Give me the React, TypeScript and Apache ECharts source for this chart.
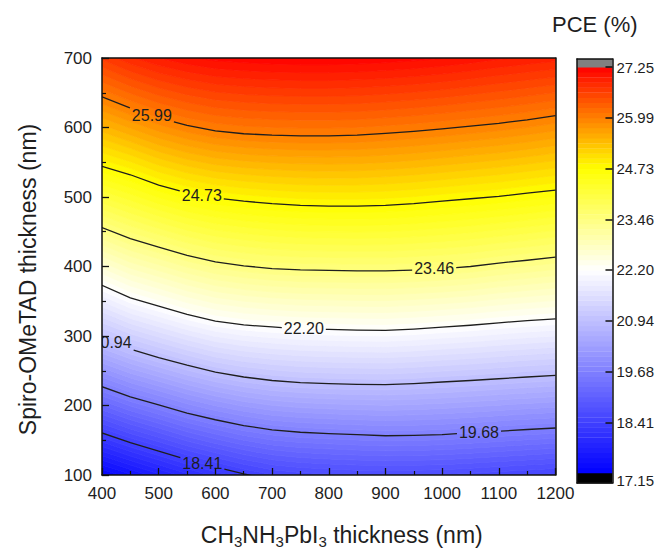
import React, { useEffect, useRef } from "react";
import * as echarts from "echarts";

const FONT = '"Liberation Sans", Arial, Helvetica, sans-serif';
const TXT = "#1e1e1e";

// x positions (CH3NH3PbI3 thickness, nm) at which the contour lines were read
const xCols = [400, 450, 500, 550, 600, 650, 700, 750, 800, 850, 900, 950, 1000, 1050, 1100, 1150, 1200];

// contour levels (PCE %)
const levels = [18.41, 19.68, 20.94, 22.2, 23.46, 24.73, 25.99];
const levelLabels = ["18.41", "19.68", "20.94", "22.20", "23.46", "24.73", "25.99"];

// Spiro-OMeTAD thickness (nm) of each contour line at xCols
const y1841 = [160.5, 146.5, 134.5, 122, 111.5, 101.6, 93, 89, 86.5, 85, 84.5, 85, 86, 88, 90, 92.5, 95];
const y1968 = [227, 212.5, 201, 189, 179.5, 171, 165, 161.5, 159.6, 158, 156.5, 157, 158.2, 160.5, 163, 165.5, 167.6];
const y2094 = [296, 281, 269, 258, 248, 241, 236, 233, 231.4, 230.5, 230, 231.5, 233.8, 236, 238.5, 241, 243.3];
const y2220 = [373, 355, 343, 331, 321.5, 316, 313, 310.5, 309.4, 308.5, 308, 310, 312.8, 315.5, 319, 322, 324.6];
const y2346 = [456, 440, 428, 416, 406.5, 401, 397, 395, 394.5, 393.8, 393.6, 395, 397, 400, 405, 409, 413.5];
const y2473 = [544, 532, 517, 506, 498.5, 494, 490.5, 488, 487, 487, 488, 490.5, 494, 497.5, 501, 505.5, 510];
const y2599 = [644, 628, 614, 603, 595, 591, 589, 588, 588, 589, 591.5, 594.5, 598, 602, 606, 611, 617];

// PCE at the top edge (700 nm) and bottom edge (100 nm) at xCols
const topEdge = [26.65, 26.85, 27.0, 27.1, 27.17, 27.2, 27.22, 27.23, 27.23, 27.22, 27.2, 27.17, 27.13, 27.08, 27.02, 26.97, 26.93];
const bottomEdge = [17.25, 17.5, 17.75, 17.99, 18.2, 18.38, 18.53, 18.6, 18.64, 18.67, 18.68, 18.67, 18.66, 18.62, 18.58, 18.54, 18.5];

// x position of each contour label
const labelX = [577, 1065, 417, 756, 986, 576, 488];

// colour bar
const cbTicks = [17.15, 18.41, 19.68, 20.94, 22.2, 23.46, 24.73, 25.99, 27.25];
const cbLabelPos = [16.95, 18.41, 19.68, 20.94, 22.2, 23.46, 24.73, 25.99, 27.25];
const CB_MIN = 16.9;
const CB_MAX = 27.45;

// colour map
const cmapVals = [17.15, 22.2, 24.73, 27.25];
const cmapCols = ["#0000ff", "#ffffff", "#ffff00", "#ff0000"];
const SUB_BANDS = 10;

const colY = [y1841, y1968, y2094, y2220, y2346, y2473, y2599];

function hexRgb(h: string) {
  return [parseInt(h.slice(1, 3), 16), parseInt(h.slice(3, 5), 16), parseInt(h.slice(5, 7), 16)];
}
function colorOf(v: number) {
  const n = cmapVals.length;
  if (v <= cmapVals[0]) return cmapCols[0];
  if (v >= cmapVals[n - 1]) return cmapCols[n - 1];
  let k = 0;
  while (k < n - 2 && v > cmapVals[k + 1]) k++;
  const t = (v - cmapVals[k]) / (cmapVals[k + 1] - cmapVals[k]);
  const a = hexRgb(cmapCols[k]);
  const b = hexRgb(cmapCols[k + 1]);
  const c = a.map((x, i) => Math.round(x + (b[i] - x) * t));
  return `rgb(${c[0]},${c[1]},${c[2]})`;
}

const bandEdges: number[] = [];
(() => {
  const lo = cbTicks[0];
  const hi = cbTicks[cbTicks.length - 1];
  const nb = (cbTicks.length - 1) * SUB_BANDS;
  for (let i = 0; i <= nb; i++) bandEdges.push(lo + ((hi - lo) * i) / nb);
})();
const bandIdx = bandEdges.slice(0, -1).map((_, i) => i);

function columnStops(i: number) {
  const st: { y: number; v: number }[] = [{ y: 100, v: bottomEdge[i] }];
  levels.forEach((lv, k) => {
    const y = colY[k][i];
    if (y > 100 && y < 700) st.push({ y, v: lv });
  });
  st.push({ y: 700, v: topEdge[i] });
  st.sort((a, b) => a.y - b.y);
  return st;
}
const stopsByCol = xCols.map((_, i) => columnStops(i));

function posOf(i: number, v: number) {
  const st = stopsByCol[i];
  const n = st.length;
  let a, b;
  if (v <= st[0].v) {
    a = st[0];
    b = st[1];
  } else if (v >= st[n - 1].v) {
    a = st[n - 2];
    b = st[n - 1];
  } else {
    let k = 0;
    while (k < n - 2 && v > st[k + 1].v) k++;
    a = st[k];
    b = st[k + 1];
  }
  return a.y + ((v - a.v) * (b.y - a.y)) / (b.v - a.v);
}

function interpArr(xs: number[], ys: number[], x: number) {
  for (let i = 0; i < xs.length - 1; i++) {
    if (x >= xs[i] && x <= xs[i + 1]) {
      const t = (x - xs[i]) / (xs[i + 1] - xs[i]);
      return ys[i] + (ys[i + 1] - ys[i]) * t;
    }
  }
  return x < xs[0] ? ys[0] : ys[ys.length - 1];
}

function splitPolyline(pts: number[][], g0: number, g1: number) {
  const xs = pts.map((p) => p[0]);
  const ys = pts.map((p) => p[1]);
  const all = pts.slice();
  [g0, g1].forEach((b) => {
    if (b > xs[0] && b < xs[xs.length - 1]) all.push([b, interpArr(xs, ys, b)]);
  });
  all.sort((a, b) => a[0] - b[0]);
  const segs: number[][][] = [];
  let cur: number[][] = [];
  const eps = 1e-6;
  for (const p of all) {
    if (p[0] > g0 + eps && p[0] < g1 - eps) {
      if (cur.length) {
        segs.push(cur);
        cur = [];
      }
      continue;
    }
    if (cur.length && cur[cur.length - 1][0] <= g0 + eps && p[0] >= g1 - eps) {
      segs.push(cur);
      cur = [];
    }
    cur.push(p);
  }
  if (cur.length) segs.push(cur);
  return segs.filter((s) => s.length >= 2);
}

const axisLineStyle = { color: "#111", width: 1.5 };
const frameAxis = (gridIndex: number, position: string, min: number, max: number) => ({
  gridIndex,
  type: "value",
  position,
  min,
  max,
  z: 10,
  axisLine: { show: true, onZero: false, lineStyle: axisLineStyle },
  axisTick: { show: false },
  axisLabel: { show: false },
  splitLine: { show: false },
});

export default function App() {
  const ref = useRef<HTMLDivElement>(null);
  useEffect(() => {
    if (!ref.current) return;
    const chart = echarts.init(ref.current, null, { renderer: "svg" });
    const LABEL_FS = 16;
    const option = {
      animation: false,
      backgroundColor: "#ffffff",
      title: {
        text: "PCE (%)",
        left: 547,
        top: 8,
        textStyle: { fontSize: 22, fontWeight: "normal", fontFamily: FONT, color: TXT },
      },
      grid: [
        { left: 102, top: 58, width: 453.5, height: 423 },
        { left: 577, top: 59, width: 36, height: 424 },
      ],
      xAxis: [
        {
          gridIndex: 0,
          type: "value",
          min: 400,
          max: 1200,
          interval: 100,
          position: "bottom",
          z: 10,
          axisLine: { show: true, onZero: false, lineStyle: axisLineStyle },
          axisTick: { show: true, inside: true, length: 7, lineStyle: { color: "#111", width: 1.3 } },
          minorTick: { show: true, splitNumber: 2, length: 4, lineStyle: { color: "#111", width: 1.2 } },
          splitLine: { show: false },
          minorSplitLine: { show: false },
          axisLabel: {
            fontSize: 17,
            color: TXT,
            margin: 10,
            fontFamily: FONT,
            showMinLabel: true,
            showMaxLabel: true,
            formatter: (v: number) => String(v),
          },
          name: "{a|CH}{s|3}{a|NH}{s|3}{a|PbI}{s|3}{a| thickness (nm)}",
          nameLocation: "middle",
          nameGap: 46,
          nameTextStyle: {
            fontFamily: FONT,
            fontSize: 23,
            color: TXT,
            padding: [0, 0, 0, 26],
            rich: {
              a: { fontSize: 23, fontFamily: FONT, color: TXT, lineHeight: 28 },
              s: { fontSize: 15, fontFamily: FONT, color: TXT, lineHeight: 15, verticalAlign: "bottom" },
            },
          },
        },
        frameAxis(0, "top", 400, 1200),
        frameAxis(1, "bottom", 0, 1),
        frameAxis(1, "top", 0, 1),
      ],
      yAxis: [
        {
          gridIndex: 0,
          type: "value",
          min: 100,
          max: 700,
          interval: 100,
          position: "left",
          z: 10,
          axisLine: { show: true, onZero: false, lineStyle: axisLineStyle },
          axisTick: { show: true, inside: true, length: 7, lineStyle: { color: "#111", width: 1.3 } },
          minorTick: { show: true, splitNumber: 2, length: 4, lineStyle: { color: "#111", width: 1.2 } },
          splitLine: { show: false },
          minorSplitLine: { show: false },
          axisLabel: {
            fontSize: 17,
            color: TXT,
            margin: 10,
            fontFamily: FONT,
            showMinLabel: true,
            showMaxLabel: true,
            formatter: (v: number) => String(v),
          },
          name: "Spiro-OMeTAD thickness (nm)",
          nameLocation: "middle",
          nameGap: 63,
          nameRotate: 90,
          nameTextStyle: { fontSize: 23, fontFamily: FONT, color: TXT, padding: [0, 26, 0, 0] },
        },
        frameAxis(0, "right", 100, 700),
        frameAxis(1, "left", CB_MIN, CB_MAX),
        {
          gridIndex: 1,
          type: "value",
          position: "right",
          min: CB_MIN,
          max: CB_MAX,
          z: 10,
          axisLine: { show: true, onZero: false, lineStyle: axisLineStyle },
          axisTick: {
            show: true,
            inside: true,
            length: 7,
            customValues: cbTicks.slice(1),
            lineStyle: { color: "#111", width: 1.5 },
          },
          axisLabel: {
            show: true,
            customValues: cbLabelPos,
            formatter: (v: number) => (v < cbTicks[0] ? cbTicks[0].toFixed(2) : v.toFixed(2)),
            fontSize: 15,
            fontFamily: FONT,
            color: TXT,
            margin: 4,
          },
          splitLine: { show: false },
        },
      ],
      series: [
        {
          type: "custom",
          name: "fill",
          coordinateSystem: "cartesian2d",
          xAxisIndex: 0,
          yAxisIndex: 0,
          clip: true,
          silent: true,
          z: 1,
          data: bandIdx.map((n) => [n]),
          renderItem: (params: any, api: any) => {
            const n = api.value(0);
            const lo = bandEdges[n];
            const hi = bandEdges[n + 1];
            const lower = xCols.map((x, i) => api.coord([x, posOf(i, lo)]));
            const upper = xCols.map((x, i) => api.coord([x, posOf(i, hi)])).reverse();
            const c = colorOf((lo + hi) / 2);
            return {
              type: "polygon",
              shape: { points: lower.concat(upper) },
              style: { fill: c, stroke: c, lineWidth: 0.8 },
            };
          },
        },
        {
          type: "custom",
          name: "contours",
          coordinateSystem: "cartesian2d",
          xAxisIndex: 0,
          yAxisIndex: 0,
          clip: true,
          silent: true,
          z: 3,
          data: levels.map((_, k) => [k]),
          renderItem: (params: any, api: any) => {
            const k = api.value(0);
            const pts = xCols.map((x, i) => api.coord([x, colY[k][i]]));
            const ly = interpArr(xCols, colY[k], labelX[k]);
            const c = api.coord([labelX[k], ly]);
            const txt = levelLabels[k];
            const w = (txt.length - 1) * 0.556 * LABEL_FS + 0.278 * LABEL_FS;
            const half = w / 2 + 2;
            const segs = splitPolyline(pts, c[0] - half, c[0] + half);
            const children: any[] = segs.map((s) => ({
              type: "polyline",
              shape: { points: s },
              style: { stroke: "#1e1e1e", lineWidth: 1.3, fill: null },
            }));
            children.push({
              type: "text",
              x: c[0],
              y: c[1],
              style: {
                text: txt,
                fill: "#1e1e1e",
                fontSize: LABEL_FS,
                fontFamily: FONT,
                align: "center",
                verticalAlign: "middle",
              },
            });
            return { type: "group", children };
          },
        },
        {
          type: "custom",
          name: "colorbar",
          coordinateSystem: "cartesian2d",
          xAxisIndex: 2,
          yAxisIndex: 2,
          silent: true,
          z: 1,
          data: [-1].concat(bandIdx, [bandIdx.length]).map((n) => [n]),
          renderItem: (params: any, api: any) => {
            const n = api.value(0);
            let lo, hi, c;
            if (n < 0) {
              lo = CB_MIN;
              hi = cbTicks[0];
              c = "#000000";
            } else if (n >= bandIdx.length) {
              lo = cbTicks[cbTicks.length - 1];
              hi = CB_MAX;
              c = "#808080";
            } else {
              lo = bandEdges[n];
              hi = bandEdges[n + 1];
              c = colorOf((lo + hi) / 2);
            }
            const p0 = api.coord([0, hi]);
            const p1 = api.coord([1, lo]);
            return {
              type: "rect",
              shape: { x: p0[0], y: p0[1], width: p1[0] - p0[0], height: p1[1] - p0[1] + 0.4 },
              style: { fill: c, stroke: null },
            };
          },
        },
      ],
    };
    chart.setOption(option as any);
    return () => chart.dispose();
  }, []);
  return (
    <div
      ref={ref}
      style={{ position: "absolute", left: 0, top: 0, width: 657, height: 554, background: "#fff" }}
    />
  );
}
